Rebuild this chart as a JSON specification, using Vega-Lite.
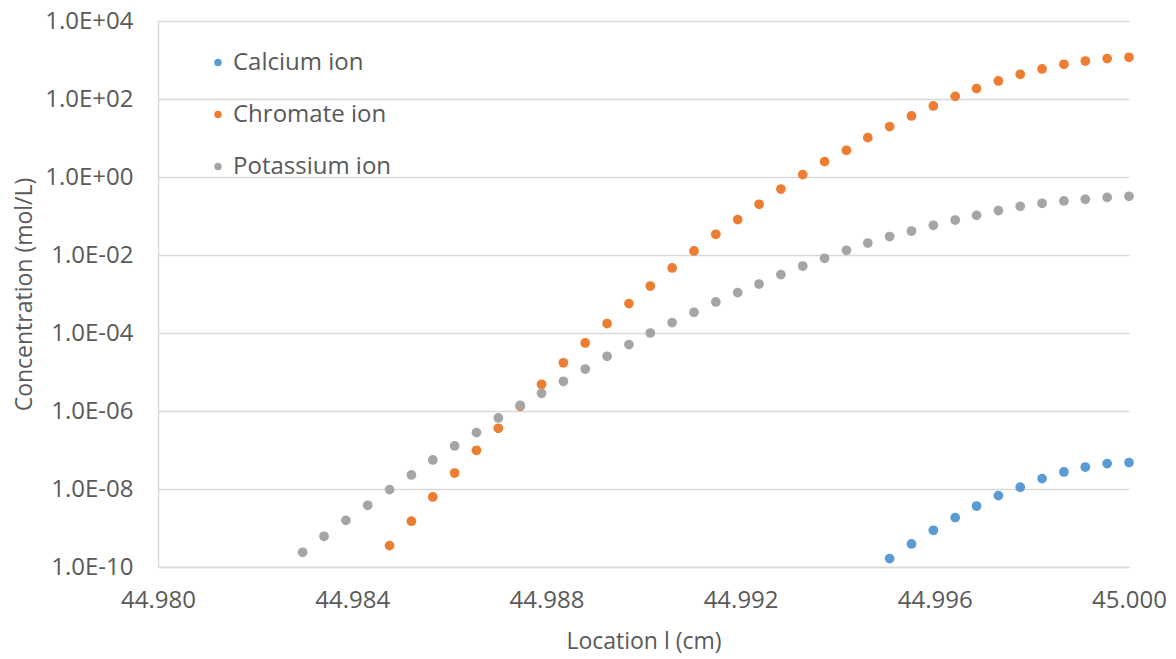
{
  "$schema": "https://vega.github.io/schema/vega-lite/v6.json",
  "width": 971,
  "height": 546,
  "autosize": {"type": "none"},
  "padding": {"left": 158, "top": 21, "right": 47, "bottom": 92},
  "background": "white",
  "config": {"view": {"stroke": null}, "font": "Open Sans"},
  "data": {"values": [
    {"ion": "Calcium ion", "x": 45.00000, "c": 4.75e-8},
    {"ion": "Calcium ion", "x": 44.99955, "c": 4.48e-8},
    {"ion": "Calcium ion", "x": 44.99910, "c": 3.66e-8},
    {"ion": "Calcium ion", "x": 44.99866, "c": 2.73e-8},
    {"ion": "Calcium ion", "x": 44.99821, "c": 1.85e-8},
    {"ion": "Calcium ion", "x": 44.99776, "c": 1.11e-8},
    {"ion": "Calcium ion", "x": 44.99731, "c": 6.78e-9},
    {"ion": "Calcium ion", "x": 44.99686, "c": 3.66e-9},
    {"ion": "Calcium ion", "x": 44.99642, "c": 1.85e-9},
    {"ion": "Calcium ion", "x": 44.99597, "c": 8.73e-10},
    {"ion": "Calcium ion", "x": 44.99552, "c": 3.89e-10},
    {"ion": "Calcium ion", "x": 44.99507, "c": 1.64e-10},
    {"ion": "Chromate ion", "x": 45.00000, "c": 1172},
    {"ion": "Chromate ion", "x": 44.99955, "c": 1086},
    {"ion": "Chromate ion", "x": 44.99910, "c": 942},
    {"ion": "Chromate ion", "x": 44.99866, "c": 776},
    {"ion": "Chromate ion", "x": 44.99821, "c": 588},
    {"ion": "Chromate ion", "x": 44.99776, "c": 430},
    {"ion": "Chromate ion", "x": 44.99731, "c": 290},
    {"ion": "Chromate ion", "x": 44.99686, "c": 185},
    {"ion": "Chromate ion", "x": 44.99642, "c": 117},
    {"ion": "Chromate ion", "x": 44.99597, "c": 66.2},
    {"ion": "Chromate ion", "x": 44.99552, "c": 36.7},
    {"ion": "Chromate ion", "x": 44.99507, "c": 19.6},
    {"ion": "Chromate ion", "x": 44.99462, "c": 10.2},
    {"ion": "Chromate ion", "x": 44.99418, "c": 4.84},
    {"ion": "Chromate ion", "x": 44.99373, "c": 2.48},
    {"ion": "Chromate ion", "x": 44.99328, "c": 1.15},
    {"ion": "Chromate ion", "x": 44.99283, "c": 0.492},
    {"ion": "Chromate ion", "x": 44.99238, "c": 0.200},
    {"ion": "Chromate ion", "x": 44.99194, "c": 0.0809},
    {"ion": "Chromate ion", "x": 44.99149, "c": 0.0340},
    {"ion": "Chromate ion", "x": 44.99104, "c": 0.0127},
    {"ion": "Chromate ion", "x": 44.99059, "c": 0.00465},
    {"ion": "Chromate ion", "x": 44.99014, "c": 0.00160},
    {"ion": "Chromate ion", "x": 44.98970, "c": 5.67e-4},
    {"ion": "Chromate ion", "x": 44.98925, "c": 1.74e-4},
    {"ion": "Chromate ion", "x": 44.98880, "c": 5.55e-5},
    {"ion": "Chromate ion", "x": 44.98835, "c": 1.72e-5},
    {"ion": "Chromate ion", "x": 44.98790, "c": 4.84e-6},
    {"ion": "Chromate ion", "x": 44.98746, "c": 1.32e-6},
    {"ion": "Chromate ion", "x": 44.98701, "c": 3.60e-7},
    {"ion": "Chromate ion", "x": 44.98656, "c": 9.82e-8},
    {"ion": "Chromate ion", "x": 44.98611, "c": 2.57e-8},
    {"ion": "Chromate ion", "x": 44.98566, "c": 6.24e-9},
    {"ion": "Chromate ion", "x": 44.98522, "c": 1.49e-9},
    {"ion": "Chromate ion", "x": 44.98477, "c": 3.54e-10},
    {"ion": "Potassium ion", "x": 45.00000, "c": 0.32},
    {"ion": "Potassium ion", "x": 44.99955, "c": 0.30},
    {"ion": "Potassium ion", "x": 44.99910, "c": 0.268},
    {"ion": "Potassium ion", "x": 44.99866, "c": 0.243},
    {"ion": "Potassium ion", "x": 44.99821, "c": 0.212},
    {"ion": "Potassium ion", "x": 44.99776, "c": 0.177},
    {"ion": "Potassium ion", "x": 44.99731, "c": 0.137},
    {"ion": "Potassium ion", "x": 44.99686, "c": 0.104},
    {"ion": "Potassium ion", "x": 44.99642, "c": 0.0789},
    {"ion": "Potassium ion", "x": 44.99597, "c": 0.0578},
    {"ion": "Potassium ion", "x": 44.99552, "c": 0.0412},
    {"ion": "Potassium ion", "x": 44.99507, "c": 0.0298},
    {"ion": "Potassium ion", "x": 44.99462, "c": 0.0203},
    {"ion": "Potassium ion", "x": 44.99418, "c": 0.0132},
    {"ion": "Potassium ion", "x": 44.99373, "c": 0.00823},
    {"ion": "Potassium ion", "x": 44.99328, "c": 0.00522},
    {"ion": "Potassium ion", "x": 44.99283, "c": 0.00314},
    {"ion": "Potassium ion", "x": 44.99238, "c": 0.00180},
    {"ion": "Potassium ion", "x": 44.99194, "c": 0.001086},
    {"ion": "Potassium ion", "x": 44.99149, "c": 6.24e-4},
    {"ion": "Potassium ion", "x": 44.99104, "c": 3.40e-4},
    {"ion": "Potassium ion", "x": 44.99059, "c": 1.85e-4},
    {"ion": "Potassium ion", "x": 44.99014, "c": 1.0e-4},
    {"ion": "Potassium ion", "x": 44.98970, "c": 5.05e-5},
    {"ion": "Potassium ion", "x": 44.98925, "c": 2.53e-5},
    {"ion": "Potassium ion", "x": 44.98880, "c": 1.19e-5},
    {"ion": "Potassium ion", "x": 44.98835, "c": 5.78e-6},
    {"ion": "Potassium ion", "x": 44.98790, "c": 2.85e-6},
    {"ion": "Potassium ion", "x": 44.98746, "c": 1.40e-6},
    {"ion": "Potassium ion", "x": 44.98701, "c": 6.62e-7},
    {"ion": "Potassium ion", "x": 44.98656, "c": 2.79e-7},
    {"ion": "Potassium ion", "x": 44.98611, "c": 1.27e-7},
    {"ion": "Potassium ion", "x": 44.98566, "c": 5.55e-8},
    {"ion": "Potassium ion", "x": 44.98522, "c": 2.29e-8},
    {"ion": "Potassium ion", "x": 44.98477, "c": 9.66e-9},
    {"ion": "Potassium ion", "x": 44.98432, "c": 3.82e-9},
    {"ion": "Potassium ion", "x": 44.98387, "c": 1.57e-9},
    {"ion": "Potassium ion", "x": 44.98342, "c": 6.12e-10},
    {"ion": "Potassium ion", "x": 44.98298, "c": 2.38e-10}
  ]},
  "mark": {"type": "point", "filled": true, "size": 95, "opacity": 1},
  "encoding": {
    "x": {
      "field": "x", "type": "quantitative",
      "scale": {"domain": [44.98, 45.0], "nice": false, "zero": false},
      "axis": {
        "title": "Location l (cm)",
        "values": [44.98, 44.984, 44.988, 44.992, 44.996, 45.0],
        "format": ".3f",
        "grid": false, "ticks": false, "labelFlush": false,
        "domainColor": "#D9D9D9", "domainWidth": 1.5,
        "labelFontSize": 24, "labelColor": "#595959", "labelPadding": 21,
        "labelFont": "Open Sans",
        "titleFontSize": 23, "titleColor": "#595959", "titleFontWeight": "normal",
        "titlePadding": 18, "titleFont": "Open Sans"
      }
    },
    "y": {
      "field": "c", "type": "quantitative",
      "scale": {"type": "log", "domain": [1e-10, 1e4], "nice": false},
      "axis": {
        "title": "Concentration (mol/L)",
        "values": [1e-10, 1e-8, 1e-6, 1e-4, 1e-2, 1, 100, 10000],
        "labelExpr": "'1.0E' + (log(datum.value)/LN10 > -0.5 ? '+' : '-') + (abs(round(log(datum.value)/LN10)) < 10 ? '0' : '') + abs(round(log(datum.value)/LN10))",
        "grid": true, "gridColor": "#D9D9D9", "gridWidth": 1.5,
        "ticks": false, "labelFlush": false,
        "domainColor": "#D9D9D9", "domainWidth": 1.5,
        "labelFontSize": 24, "labelColor": "#595959", "labelPadding": 25,
        "labelFont": "Open Sans",
        "titleFontSize": 23, "titleColor": "#595959", "titleFontWeight": "normal",
        "titlePadding": 8, "titleFont": "Open Sans"
      }
    },
    "color": {
      "field": "ion", "type": "nominal",
      "scale": {"domain": ["Calcium ion", "Chromate ion", "Potassium ion"], "range": ["#5B9BD5", "#ED7D31", "#A5A5A5"]},
      "legend": {
        "title": null, "orient": "none", "legendX": 48, "legendY": 29.5,
        "symbolType": "circle", "symbolSize": 55,
        "labelFontSize": 24, "labelColor": "#595959", "labelFont": "Open Sans",
        "rowPadding": 28, "labelOffset": 3
      }
    }
  }
}
